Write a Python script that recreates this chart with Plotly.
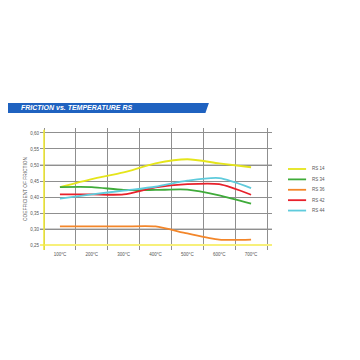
import plotly.graph_objects as go

temps = ["100°C", "200°C", "300°C", "400°C", "500°C", "600°C", "700°C"]
series_names = ["RS 14", "RS 34", "RS 36", "RS 42", "RS 44"]
rs14 = [0.431, 0.456, 0.477, 0.505, 0.518, 0.505, 0.493]
rs34 = [0.431, 0.431, 0.422, 0.422, 0.423, 0.405, 0.379]
rs36 = [0.308, 0.308, 0.308, 0.308, 0.286, 0.267, 0.267]
rs42 = [0.408, 0.408, 0.408, 0.430, 0.440, 0.440, 0.407]
rs44 = [0.395, 0.408, 0.420, 0.432, 0.451, 0.459, 0.428]
y_ticks = [0.25, 0.30, 0.35, 0.40, 0.45, 0.50, 0.55, 0.60]

series_values = [rs14, rs34, rs36, rs42, rs44]
colors = ["#e5e51a", "#3fab3a", "#f3862a", "#e8212b", "#5fcbdc"]

xpos = list(range(1, len(temps) + 1))

fig = go.Figure()
for name, vals, col in zip(series_names, series_values, colors):
    fig.add_trace(go.Scatter(
        x=xpos, y=vals, name=name, mode="lines",
        line=dict(color=col, width=1.8, shape="spline", smoothing=0.7),
        showlegend=False,
    ))

FONT = "Liberation Sans, Arial, sans-serif"

fig.update_layout(
    width=360, height=360,
    margin=dict(l=32, r=96, t=120, b=118),
    paper_bgcolor="white", plot_bgcolor="white",
    separators=",.",
    font=dict(family=FONT, size=5, color="#555"),
    xaxis=dict(
        range=[0.374, 7.657],
        tickvals=xpos, ticktext=temps,
        showgrid=False, zeroline=False, showline=False,
        ticks="", tickfont=dict(size=4.5, color="#555"),
        minor=dict(tickvals=[i + 0.5 for i in range(0, 8)], showgrid=True,
                   gridcolor="#8f8f8f", gridwidth=1),
        fixedrange=True,
    ),
    yaxis=dict(
        range=[0.2344, 0.6156],
        tickvals=y_ticks, tickformat=".2f",
        showgrid=True, gridcolor="#8f8f8f", gridwidth=1,
        zeroline=False, showline=False, ticks="",
        tickfont=dict(size=4.5, color="#555"),
        title=dict(text="COEFFICIENT OF FRICTION", font=dict(size=4.8, color="#555"), standoff=2),
        fixedrange=True,
    ),
)

# lighter emphasised gridlines and yellow axis lines
for yv, col, w in [(0.50, "#cfcfcf", 2), (0.30, "#cfcfcf", 2)]:
    fig.add_shape(type="line", xref="paper", x0=0, x1=1, yref="y", y0=yv, y1=yv,
                  line=dict(color=col, width=w), layer="below")
fig.add_shape(type="line", xref="paper", x0=0, x1=1, yref="y", y0=0.25, y1=0.25,
              line=dict(color="#f7f07a", width=2.2), layer="above")
fig.add_shape(type="line", xref="x", x0=0.5, x1=0.5, yref="paper", y0=0, y1=0.985,
              line=dict(color="#f2ea3a", width=1.6), layer="above")

# banner title
fig.add_shape(type="path", xref="paper", yref="paper",
              path="M -0.2,1.205 L 0.728,1.205 L 0.713,1.123 L -0.2,1.123 Z",
              fillcolor="#1f62c0", line=dict(width=0))
fig.add_annotation(text="<b><i>FRICTION vs. TEMPERATURE RS</i></b>", xref="paper", yref="paper",
                   x=-0.09, y=1.164, xanchor="left", yanchor="middle", showarrow=False,
                   font=dict(family=FONT, size=7, color="white"))

# custom compact legend
for i, (name, col) in enumerate(zip(series_names, colors)):
    yy = 0.664 - i * 0.0852
    fig.add_shape(type="line", xref="paper", yref="paper", x0=1.069, x1=1.147, y0=yy, y1=yy,
                  line=dict(color=col, width=1.8))
    fig.add_annotation(text=name, xref="paper", yref="paper", x=1.165, y=yy,
                       xanchor="left", yanchor="middle", showarrow=False,
                       font=dict(family=FONT, size=4.5, color="#555"))

fig.write_html("out.html")
